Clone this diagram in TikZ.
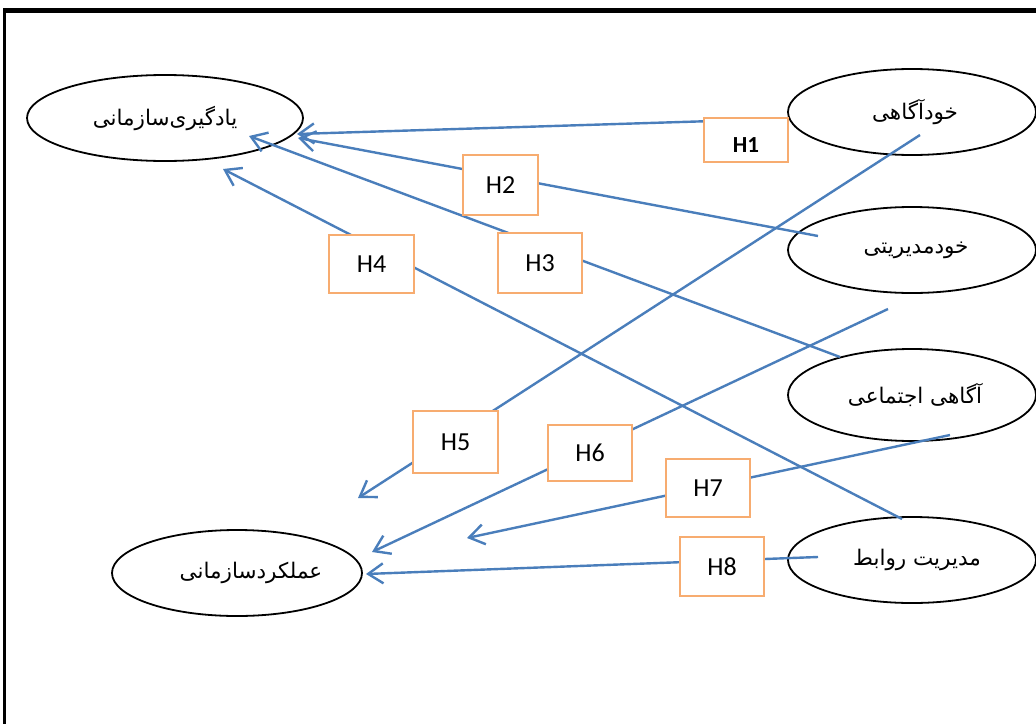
\documentclass[tikz,border=0pt]{standalone}
\usepackage{fontspec}
\setmainfont{Carlito}
\newfontfamily\arabicfont[Script=Arabic]{DejaVu Sans}
\TeXXeTstate=1
\usetikzlibrary{arrows.meta,shapes.geometric}
\definecolor{linkblue}{RGB}{74,126,187}
\definecolor{boxorange}{RGB}{247,172,112}
\begin{document}
\begin{tikzpicture}[x=1pt,y=-1pt,
  construct/.style={draw=black,line width=1.8pt,ellipse,inner sep=0pt,
    minimum width=248pt,minimum height=86pt,font=\arabicfont\fontsize{21.5}{24}\selectfont},
  hbox/.style={draw=boxorange,line width=1.4pt,fill=white,inner sep=0pt,
    font=\fontsize{26}{30}\selectfont},
  link/.style={draw=linkblue,line width=2.4pt,
    -{Straight Barb[length=15pt,width=20pt]}}]
\useasboundingbox (0,0) rectangle (1036,723);
% frame
\draw[line width=5pt] (3,10) -- (1045,10);
\draw[line width=3pt] (4.5,8) -- (4.5,730);
% constructs
\node[construct,minimum width=276pt] (org) at (165,118) {\beginR یادگیری‌سازمانی\endR};
\node[construct] (sa) at (912,112) {\hspace*{6pt}\beginR خودآگاهی\endR};
\node[construct] (sm) at (912,250) {\hspace*{8pt}\beginR خودمدیریتی\endR};
\node[construct,minimum height=92pt] (soc) at (912,395) {\hspace*{6pt}\beginR آگاهی اجتماعی\endR};
\node[construct] (rel) at (912,560) {\hspace*{10pt}\beginR مدیریت روابط\endR};
\node[construct,minimum width=250pt] (perf) at (237,573) {\hspace*{28pt}\beginR عملکردسازمانی\endR};
% connector ends
\coordinate (s1) at (745,120); \coordinate (t1) at (297,134);
\coordinate (s2) at (818,236); \coordinate (t2) at (298,138);
\coordinate (s3) at (840,357); \coordinate (t3) at (249,136);
\coordinate (s4) at (902,519); \coordinate (t4) at (223,169);
\coordinate (s5) at (920,135); \coordinate (t5) at (358,498);
\coordinate (s6) at (888,309); \coordinate (t6) at (372,552);
\coordinate (s7) at (950,435); \coordinate (t7) at (467,538);
\coordinate (s8) at (818,557); \coordinate (t8) at (366,574);
\foreach \i in {1,...,8} {\draw[link] (s\i) -- (t\i);}
% hypothesis boxes
\node[hbox,minimum width=84pt,minimum height=44pt] (h1) at (746,140) {};
\node[inner sep=0pt,font=\bfseries\fontsize{23}{26}\selectfont] (h1t) at (746,145) {H1};
\node[hbox,minimum width=75pt,minimum height=60pt] (h2) at (500.5,185) {H2};
\node[hbox,minimum width=84pt,minimum height=60pt] (h3) at (540,263) {H3};
\node[hbox,minimum width=85pt,minimum height=58pt] (h4) at (371.5,264) {H4};
\node[hbox,minimum width=85pt,minimum height=62pt] (h5) at (455.5,442) {H5};
\node[hbox,minimum width=84pt,minimum height=56pt] (h6) at (590,453) {H6};
\node[hbox,minimum width=84pt,minimum height=58pt] (h7) at (708,488) {H7};
\node[hbox,minimum width=84pt,minimum height=59pt] (h8) at (722,566.5) {H8};
\end{tikzpicture}
\end{document}
